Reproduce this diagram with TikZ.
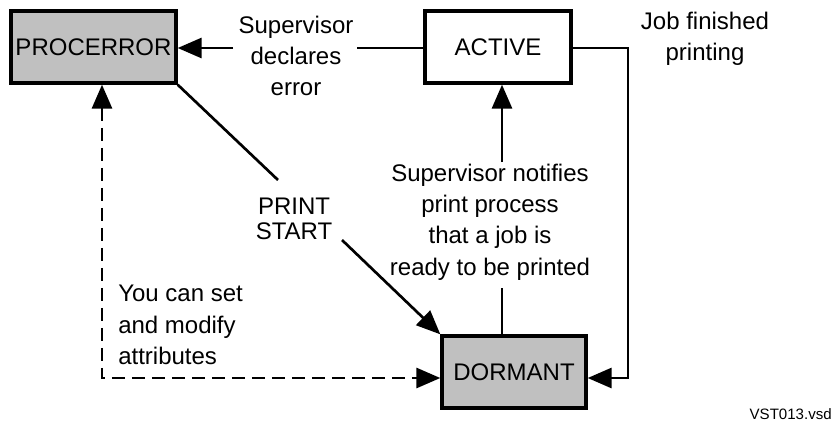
\documentclass[tikz,border=0pt]{standalone}
\usepackage{fontspec}
\setmainfont{Liberation Sans}
\usetikzlibrary{arrows.meta}
\begin{document}
\begin{tikzpicture}[x=0.75pt,y=-0.75pt,
  state/.style={draw=black,line width=2.5pt,minimum height=54pt,inner sep=0pt,
    font=\fontsize{18}{23}\selectfont},
  grey/.style={fill={rgb,255:red,192;green,192;blue,192}},
  lbl/.style={inner sep=0pt,align=center,font=\fontsize{18}{23.5}\selectfont},
  conn/.style={line width=2.2pt},
  tip/.tip={Triangle[length=18pt,width=15pt]},
  arr/.style={conn,-tip},
  dashline/.style={conn,dash pattern=on 10pt off 5pt}]
\useasboundingbox (0,0) rectangle (834,436);
% states
\node[state,grey,minimum width=123.75pt] (procerror) at (93.5,47) {PROCERROR};
\node[state,fill=white,minimum width=109.5pt] (active) at (498,47) {ACTIVE};
\node[state,grey,minimum width=108pt] (dormant) at (514,372) {DORMANT};
% labels
\node[lbl] (sde) at (296,56) {Supervisor\\declares\\error};
\node[lbl] (jfp) at (705,39) {Job finished\\printing};
\node[lbl] (snp) at (490,222) {Supervisor notifies\\print process\\that a job is\\ready to be printed};
\node[lbl,font=\fontsize{18}{18.75}\selectfont] (ps) at (294,219) {PRINT\\START};
\node[lbl,align=left,anchor=west] (ycs) at (118,325) {You can set\\and modify\\attributes};
\node[inner sep=0pt,anchor=base east,font=\fontsize{11.3}{13}\selectfont] (file) at (832,419) {VST013.vsd};
% gap end points
\coordinate (e1) at (357,48);
\coordinate (e2) at (233,48);
\coordinate (v1) at (502,162);
\coordinate (v2) at (502,288);
\coordinate (d1) at (278,180);
\coordinate (d2) at (342,240);
\coordinate (c) at (102,378);
\coordinate (r) at (628,378);
% connectors
\draw[conn] (active.west |- e1) -- (e1);
\draw[arr] (e2) -- (procerror.east |- e2);
\draw[arr] (active.east |- e1) -| (r) -- (dormant.east |- r);
\draw[arr] (v1) -- (active.south -| v1);
\draw[conn] (dormant.north -| v2) -- (v2);
\draw[conn,line width=2pt] (procerror.south east) -- (d1);
\draw[arr,line width=2pt] (d2) -- (dormant.north west);
\draw[dashline,tip-tip] (procerror.south -| c) -- (c) -- (dormant.west |- c);
\end{tikzpicture}
\end{document}
